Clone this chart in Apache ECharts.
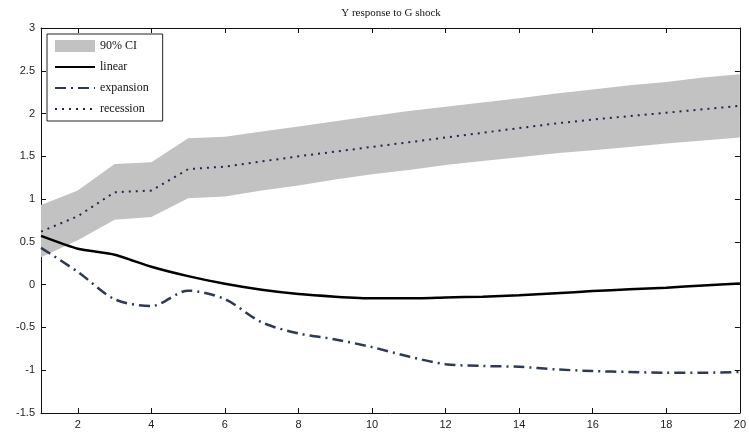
<!DOCTYPE html>
<html>
<head>
<meta charset="utf-8">
<script src="https://cdn.jsdelivr.net/npm/echarts@6/dist/echarts.min.js"></script>
<style>
html,body{margin:0;padding:0;background:#fff;}
#chart{width:749px;height:434px;}
</style>
</head>
<body>
<div id="chart"></div>
<script>
// ---- data ----
const horizons = [1,2,3,4,5,6,7,8,9,10,11,12,13,14,15,16,17,18,19,20];
const ciLower  = [0.32,0.52,0.76,0.79,1.01,1.03,1.10,1.16,1.23,1.29,1.34,1.40,1.445,1.49,1.535,1.57,1.61,1.65,1.685,1.72];
const ciUpper  = [0.93,1.10,1.41,1.43,1.71,1.73,1.79,1.85,1.91,1.97,2.03,2.08,2.13,2.18,2.235,2.28,2.33,2.37,2.42,2.46];
const linear    = [0.57,0.42,0.35,0.21,0.10,0.01,-0.06,-0.11,-0.14,-0.16,-0.16,-0.15,-0.14,-0.125,-0.10,-0.075,-0.055,-0.035,-0.01,0.015];
const expansion = [0.43,0.15,-0.17,-0.25,-0.07,-0.17,-0.44,-0.57,-0.64,-0.73,-0.84,-0.93,-0.95,-0.96,-0.99,-1.01,-1.02,-1.03,-1.03,-1.02];
const recession = [0.62,0.80,1.08,1.10,1.35,1.38,1.44,1.50,1.555,1.61,1.665,1.72,1.775,1.83,1.885,1.93,1.97,2.01,2.05,2.09];
const xTicks = [2,4,6,8,10,12,14,16,18,20];
const titleText = 'Y response to G shock';

const pairs = arr => horizons.map((h,i)=>[h,arr[i]]);
const bandData = horizons.map((h,i)=>[h, ciLower[i], ciUpper[i]]);

const chart = echarts.init(document.getElementById('chart'), null, {renderer:'canvas'});
const axisTxt = {fontFamily:'Liberation Sans, Arial, sans-serif', fontSize:11, color:'#222'};
const hideSym = {color:'rgba(0,0,0,0)', borderWidth:0, opacity:0};

function renderBand(params, api){
  if (params.dataIndex !== 0) return;
  const up = [], lo = [];
  for (let i = 0; i < bandData.length; i++){
    up.push(api.coord([bandData[i][0], bandData[i][2]]));
    lo.push(api.coord([bandData[i][0], bandData[i][1]]));
  }
  const pts = up.concat(lo.reverse());
  return {type:'polygon', shape:{points:pts}, style:{fill:'#c2c2c2', stroke:'none'}, silent:true};
}

const option = {
  animation:false,
  backgroundColor:'#fff',
  grid:{left:41, right:7, top:28, bottom:21, containLabel:false},
  graphic:[{type:'text', x:391, y:13, style:{text:titleText, align:'center', verticalAlign:'middle', font:'11px "Liberation Serif", "Times New Roman", serif', fill:'#111'}}],
  legend:{
    left:47, top:34, orient:'vertical',
    padding:[6,14,6,7],
    itemGap:9, itemWidth:40, itemHeight:12,
    borderColor:'#222', borderWidth:1, backgroundColor:'#fff',
    textStyle:{fontFamily:'Liberation Serif, Times New Roman, serif', fontSize:12, color:'#111'},
    data:[
      {name:'90% CI', icon:'rect', itemStyle:{color:'#c2c2c2'}},
      {name:'linear', itemStyle:hideSym},
      {name:'expansion', itemStyle:hideSym},
      {name:'recession', itemStyle:hideSym}
    ]
  },
  xAxis:[{
    type:'value', min:1, max:20, position:'bottom',
    axisLine:{show:true, onZero:false, lineStyle:{color:'#111', width:1}},
    axisTick:{show:true, inside:true, length:5, customValues:xTicks, lineStyle:{color:'#111'}},
    axisLabel:{show:true, margin:6, customValues:xTicks, ...axisTxt},
    splitLine:{show:false}
  },{
    type:'value', min:1, max:20, position:'top',
    axisLine:{show:true, onZero:false, lineStyle:{color:'#111', width:1}},
    axisTick:{show:true, inside:true, length:5, customValues:xTicks, lineStyle:{color:'#111'}},
    axisLabel:{show:false},
    splitLine:{show:false}
  }],
  yAxis:[{
    type:'value', min:-1.5, max:3, interval:0.5, position:'left',
    axisLine:{show:true, onZero:false, lineStyle:{color:'#111', width:1}},
    axisTick:{show:true, inside:true, length:5, lineStyle:{color:'#111'}},
    axisLabel:{show:true, margin:6, ...axisTxt},
    splitLine:{show:false}
  },{
    type:'value', min:-1.5, max:3, interval:0.5, position:'right',
    axisLine:{show:true, onZero:false, lineStyle:{color:'#111', width:1}},
    axisTick:{show:true, inside:true, length:5, lineStyle:{color:'#111'}},
    axisLabel:{show:false},
    splitLine:{show:false}
  }],
  series:[
    {name:'90% CI', type:'custom', renderItem:renderBand, data:bandData, itemStyle:{color:'#c2c2c2'}, encode:{x:0, y:[1,2]}, silent:true, z:1},
    {name:'linear', type:'line', data:pairs(linear), symbol:'none', smooth:0.2, itemStyle:{color:'#000'}, lineStyle:{color:'#000', width:2.5}, z:3},
    {name:'expansion', type:'line', data:pairs(expansion), symbol:'none', smooth:0.3, itemStyle:{color:'#2e3a55'}, lineStyle:{color:'#2e3a55', width:2.5, type:[11,5,2,5]}, z:3},
    {name:'recession', type:'line', data:pairs(recession), symbol:'none', itemStyle:{color:'#1e2848'}, lineStyle:{color:'#1e2848', width:2, type:[2,5]}, z:3}
  ]
};
chart.setOption(option);
</script>
</body>
</html>
